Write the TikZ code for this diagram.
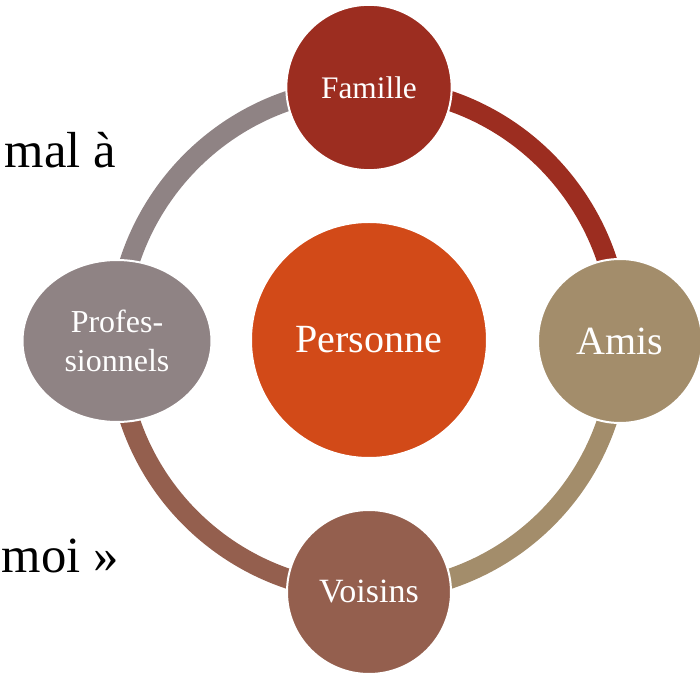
\documentclass[tikz,border=0pt]{standalone}
\usepackage{fontspec}
\setmainfont{Liberation Serif}
\usetikzlibrary{shapes.geometric,backgrounds}
\definecolor{famred}{HTML}{9C2D20}
\definecolor{persorange}{HTML}{D24A18}
\definecolor{amistan}{HTML}{A38D6B}
\definecolor{voisbrown}{HTML}{945F4E}
\definecolor{profgray}{HTML}{8F8384}
\tikzset{
  bubble/.style={circle, draw=white, line width=1.5pt, text=white, inner sep=0pt},
  oval/.style={ellipse, draw=white, line width=1.5pt, text=white, inner sep=0pt, align=center},
  ring/.style={line width=15pt},
  side/.style={text=black, font=\fontsize{38}{46}\selectfont, anchor=base east, inner sep=0pt}
}

\begin{document}
\begin{tikzpicture}[x=0.75pt, y=0.75pt]
  \useasboundingbox (-369,-334) rectangle (331,340);
  \node[bubble, fill=persorange, minimum size=177pt, font=\fontsize{30}{36}\selectfont] (pers) at (0,0) {Personne};
  \node[bubble, fill=famred, minimum size=124pt, font=\fontsize{23.5}{28}\selectfont] (fam) at (0,252.5) {Famille};
  \node[bubble, fill=amistan, minimum size=123pt, font=\fontsize{30}{36}\selectfont] (amis) at (251,-1) {Amis};
  \node[bubble, fill=voisbrown, minimum size=123pt, font=\fontsize{25.5}{30}\selectfont] (vois) at (0,-252) {Voisins};
  \node[oval, fill=profgray, minimum width=141.75pt, minimum height=121.5pt, font=\fontsize{24}{29}\selectfont] (prof) at (-252,-1) {Profes-\\sionnels};
  % ring behind the bubbles
  \begin{scope}[on background layer]
    \draw[ring, draw=famred] (fam.center) to[out=0, in=90] (amis.center);
    \draw[ring, draw=amistan] (amis.center) to[out=-90, in=0] (vois.center);
    \draw[ring, draw=voisbrown] (vois.center) to[out=180, in=-90] (prof.center);
    \draw[ring, draw=profgray] (prof.center) to[out=90, in=180] (fam.center);
  \end{scope}
  \node[side] (malA) at (-253,172) {mal à};
  \node[side] (moi) at (-250,-233) {moi »};
\end{tikzpicture}
\end{document}
